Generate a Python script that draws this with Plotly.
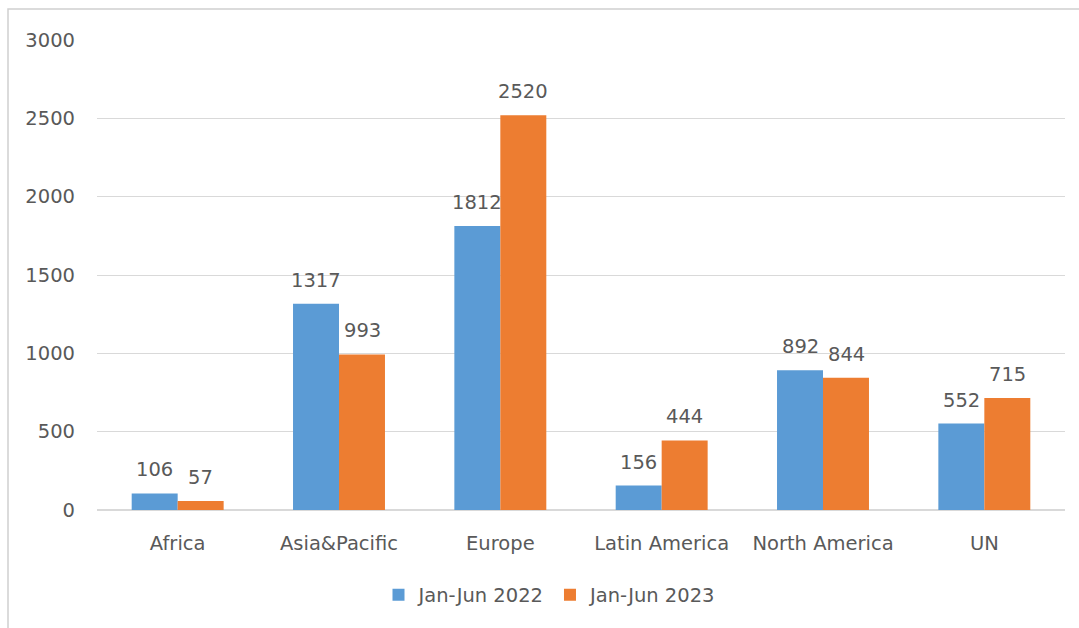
import plotly.graph_objects as go

categories = ["Africa", "Asia&Pacific", "Europe", "Latin America", "North America", "UN"]
series_names = ["Jan-Jun 2022", "Jan-Jun 2023"]
values_2022 = [106, 1317, 1812, 156, 892, 552]
values_2023 = [57, 993, 2520, 444, 844, 715]
colors = ["#5B9BD5", "#ED7D31"]
y_ticks = [0, 500, 1000, 1500, 2000, 2500, 3000]

FONT = "DejaVu Sans"
FS = 19.5
TXT = "#595959"

fig = go.Figure()
for name, vals, col in zip(series_names, [values_2022, values_2023], colors):
    fig.add_trace(go.Bar(x=categories, y=vals, name=name, marker=dict(color=col, line=dict(width=0))))

annotations = []
for vals, shift in [(values_2022, -23), (values_2023, 23)]:
    for c, v in zip(categories, vals):
        annotations.append(dict(x=c, y=v, text=str(v), showarrow=False, xshift=shift,
                                yanchor="bottom", yshift=10, font=dict(family=FONT, size=FS, color=TXT)))

W, H = 1079, 628
ml, mr, mt, mb = 97, 14, 40, 118
pw, ph = W - ml - mr, H - mt - mb

fig.update_layout(
    width=W, height=H,
    margin=dict(l=ml, r=mr, t=mt, b=mb),
    paper_bgcolor="white", plot_bgcolor="white",
    barmode="group", bargap=0.43, bargroupgap=0,
    font=dict(family=FONT, size=FS, color=TXT),
    showlegend=True,
    legend=dict(orientation="h", x=0.5 - 31 / pw, xanchor="center", y=-(595 - (H - mb)) / ph, yanchor="middle",
                font=dict(family=FONT, size=FS, color=TXT), itemwidth=30),
    annotations=annotations,
    shapes=[dict(type="rect", xref="paper", yref="paper",
                 x0=(8 - ml) / pw, x1=(W + 5 - ml) / pw,
                 y0=-(H + 5 - (H - mb)) / ph, y1=1 + (mt - 9) / ph,
                 line=dict(color="#d0d0d0", width=1.5), layer="below")],
)
fig.update_xaxes(showgrid=False, showline=False, ticks="", ticklabelstandoff=19,
                 tickfont=dict(family=FONT, size=FS, color=TXT))
fig.update_yaxes(range=[0, 3000], tickvals=y_ticks, showgrid=True, gridcolor="#d9d9d9", gridwidth=1,
                 zeroline=True, zerolinecolor="#d9d9d9", zerolinewidth=1.5,
                 showline=False, ticks="", ticklabelstandoff=21,
                 tickfont=dict(family=FONT, size=FS, color=TXT))

fig.write_html("out.html", config={"displayModeBar": False},
               post_script="document.body.style.margin='0px';")
